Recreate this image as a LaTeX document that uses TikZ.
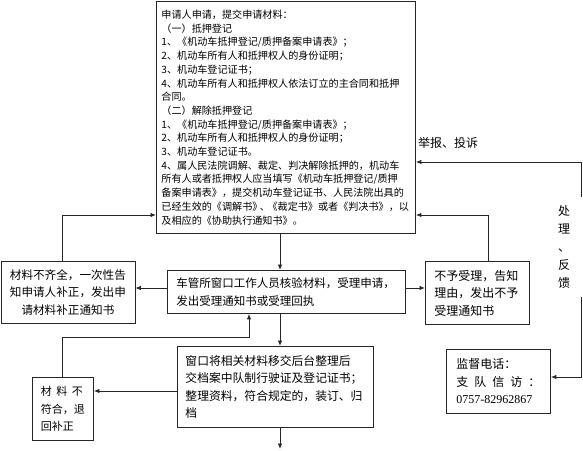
\documentclass[tikz,border=0pt]{standalone}
\usepackage{fontspec}
\setmainfont{Liberation Serif}
\newfontfamily\cjk{Noto Sans CJK SC}
\usetikzlibrary{arrows.meta}
\begin{document}
\begin{tikzpicture}[x=1pt,y=-1pt,
  box/.style={draw=black!85, line width=0.9pt, inner sep=0pt, anchor=north west},
  conn/.style={draw=black!85, line width=0.9pt},
  arr/.style={conn, -{Latex[length=5.5pt,width=4.5pt]}},
  fs/.style={font=\cjk\fontsize{#1}{17.5}\selectfont}]
\useasboundingbox (0,0) rectangle (583,450);
\fill[white] (0,0) rectangle (583,450);

% boxes
\node[box, minimum width=259pt, minimum height=232pt, text width=249pt, align=left,
      font=\cjk\fontsize{10.1}{13.7}\selectfont] (top) at (156,1)
{申请人申请，提交申请材料：\\
（一）抵押登记\\
1、《机动车抵押登记/质押备案申请表》；\\
2、机动车所有人和抵押权人的身份证明；\\
3、机动车登记证书；\\
4、机动车所有人和抵押权人依法订立的主合同和抵押\\
合同。\\
（二）解除抵押登记\\
1、《机动车抵押登记/质押备案申请表》；\\
2、机动车所有人和抵押权人的身份证明；\\
3、机动车登记证书。\\
4、属人民法院调解、裁定、判决解除抵押的，机动车\\
所有人或者抵押权人应当填写《机动车抵押登记/质押\\
备案申请表》，提交机动车登记证书、人民法院出具的\\
已经生效的《调解书》\kern-2.5pt、\kern-2.5pt《裁定书》或者《判决书》，以\\
及相应的《协助执行通知书》。};

\node[box, minimum width=238pt, minimum height=43pt, text width=220pt, align=left,
      font=\cjk\fontsize{11.5}{18}\selectfont] (mid) at (167,270)
{车管所窗口工作人员核验材料，受理申请，\\发出受理通知书或受理回执};

\node[box, minimum width=134pt, minimum height=62pt, text width=120pt, align=center,
      fs=11.6] (lft) at (0.5,261)
{材料不齐全，一次性告\\知申请人补正，发出申\\请材料补正通知书};

\node[box, minimum width=104pt, minimum height=63pt, text width=86pt, align=left,
      fs=12] (rgt) at (425,261)
{不予受理，告知\\理由，发出不予\\受理通知书};

\node[box, minimum width=196pt, minimum height=81pt, text width=180pt, align=left,
      fs=11.8] (win) at (177,346)
{窗口将相关材料移交后台整理后\\交档案中队制行驶证及登记证书；\\整理资料，符合规定的，装订、归\\档};

\node[box, minimum width=61pt, minimum height=63pt, text width=44pt, align=left,
      fs=11] (bad) at (32,377)
{\makebox[42pt][s]{材\hfill 料\hfill 不}\\符合，退\\回补正};

\node[box, minimum width=104pt, minimum height=64pt, text width=84pt, align=left,
      fs=12] (sup) at (446,349)
{监督电话：\\\makebox[84pt][s]{支\hfill 队\hfill 信\hfill 访\hfill ：}\\{\fontspec{Liberation Serif}0757-82962867}};

% labels
\node[inner sep=0pt, font=\cjk\fontsize{12}{14}\selectfont] (report) at (448,143) {举报、投诉};
\node[inner sep=0pt, align=center, font=\cjk\fontsize{12}{18}\selectfont] (feedback) at (564,247)
{处\\理\\、\\反\\馈};

% helper coordinates
\coordinate (cx) at (280,0);
\coordinate (lx) at (62,0);
\coordinate (ly) at (0,215);
\coordinate (y288) at (0,288);
\coordinate (rx) at (488,0);
\coordinate (y162) at (0,162);
\coordinate (y377) at (0,377);
\coordinate (y391) at (0,391);
\coordinate (fb1) at (581,197);
\coordinate (fb2) at (581,297);
\coordinate (bx) at (249,337);
\coordinate (endp) at (280,449);

% connectors
\draw[arr] (cx |- top.south) -- (cx |- mid.north);
\draw[arr] (mid.west |- y288) -- (lft.east |- y288);
\draw[arr] (lx |- lft.north) |- (top.west |- ly);
\draw[arr] (mid.east |- y288) -- (rgt.west |- y288);
\draw[arr] (rx |- rgt.north) |- (top.east |- ly);
\draw[arr] (fb1) |- (top.east |- y162);
\draw[arr] (fb2) |- (sup.east |- y377);
\draw[arr] (cx |- mid.south) -- (cx |- win.north);
\draw[arr] (win.west |- y391) -- (bad.east |- y391);
\draw[arr] (lx |- bad.north) |- (bx) -- (bx |- mid.south);
\draw[arr] (cx |- win.south) -- (endp);
\end{tikzpicture}
\end{document}
